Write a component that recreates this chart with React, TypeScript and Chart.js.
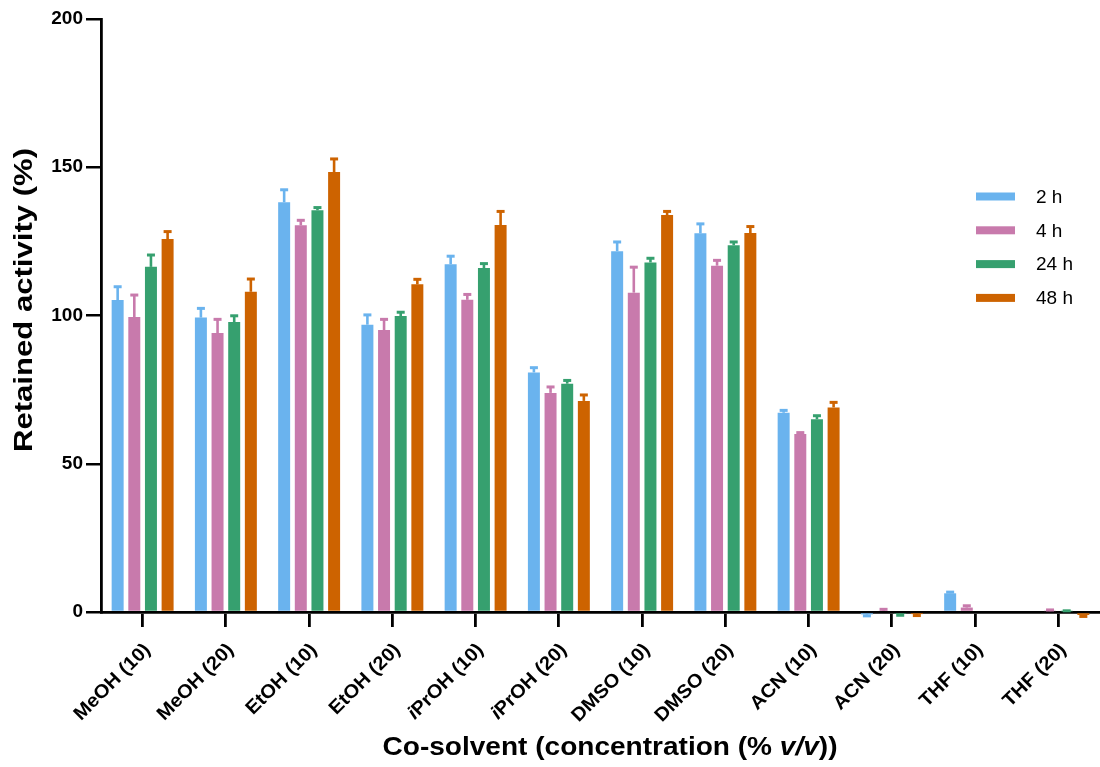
import React, { useEffect, useRef } from 'react';
import { Chart, registerables } from 'chart.js';

Chart.register(...registerables);

// ---------------- data ----------------
const categories = [
  'MeOH (10)', 'MeOH (20)', 'EtOH (10)', 'EtOH (20)', 'iPrOH (10)', 'iPrOH (20)',
  'DMSO (10)', 'DMSO (20)', 'ACN (10)', 'ACN (20)', 'THF (10)', 'THF (20)',
];
const seriesLabels = ['2 h', '4 h', '24 h', '48 h'];

const h2 = [105.2, 99.3, 138.2, 96.9, 117.3, 80.8, 121.7, 127.7, 67.2, -0.8, 6.3, null];
const h2err = [4.5, 3.1, 4.2, 3.3, 2.7, 1.6, 3.1, 3.2, 0.8, 0.5, 0.4, null];
const h4 = [99.5, 94.1, 130.4, 95.1, 105.3, 73.9, 107.7, 116.8, 60.0, 0.4, 1.5, 0.3];
const h4err = [7.4, 4.6, 1.7, 3.6, 1.8, 2.0, 8.6, 1.8, 0.5, 0.5, 0.6, 0.4];
const h24 = [116.4, 97.8, 135.5, 99.8, 116.0, 77.0, 117.9, 123.7, 65.0, -0.6, null, 0.2];
const h24err = [4.0, 2.1, 0.9, 1.3, 1.5, 1.1, 1.4, 1.1, 1.2, 0.5, null, 0.2];
const h48 = [125.8, 108.0, 148.4, 110.5, 130.5, 71.2, 133.9, 127.8, 69.0, -0.7, null, -1.0];
const h48err = [2.5, 4.3, 4.4, 1.7, 4.6, 2.0, 1.2, 2.2, 1.7, 0.5, null, 0.5];

const yMin = 0;
const yMax = 200;
const yStep = 50;

const xTitleParts = [
  { text: 'Co-solvent (concentration (% ', italic: false },
  { text: 'v/v', italic: true },
  { text: '))', italic: false },
];
const yTitle = 'Retained activity (%)';

// ---------------- style ----------------
const colors = ['#6AB3EE', '#C87AAC', '#36A06F', '#CD6300'];
const FONT = 'Arial, "Liberation Sans", Helvetica, sans-serif';

export default function App() {
  const ref = useRef<HTMLCanvasElement>(null);

  useEffect(() => {
    const values = [h2, h4, h24, h48];
    const errs = [h2err, h4err, h24err, h48err];

    const errorBars = {
      id: 'errorBars',
      afterDatasetsDraw(chart: any) {
        const ctx = chart.ctx;
        const y = chart.scales.y;
        chart.data.datasets.forEach((ds: any, di: number) => {
          const meta = chart.getDatasetMeta(di);
          meta.data.forEach((el: any, j: number) => {
            const v = ds.data[j];
            const e = errs[di][j];
            if (v == null || e == null) return;
            const end = v >= 0 ? v + e : v - e;
            const yb = y.getPixelForValue(v);
            const ye = y.getPixelForValue(end);
            ctx.save();
            ctx.strokeStyle = colors[di];
            ctx.lineWidth = 2.6;
            ctx.beginPath();
            ctx.moveTo(el.x, yb);
            ctx.lineTo(el.x, ye);
            ctx.stroke();
            ctx.lineWidth = 3;
            ctx.beginPath();
            ctx.moveTo(el.x - 4, ye);
            ctx.lineTo(el.x + 4, ye);
            ctx.stroke();
            ctx.restore();
          });
        });
      },
    };

    const measureParts = (ctx: any, parts: { text: string; italic: boolean }[], size: number, bold: boolean) => {
      const fontFor = (it: boolean) => `${it ? 'italic ' : ''}${bold ? 'bold ' : ''}${size}px ${FONT}`;
      let total = 0;
      const widths = parts.map((p) => {
        ctx.font = fontFor(p.italic);
        const w = ctx.measureText(p.text).width;
        total += w;
        return w;
      });
      return { total, widths, fontFor };
    };

    const customText = {
      id: 'customText',
      afterDraw(chart: any) {
        const ctx = chart.ctx;
        const xs = chart.scales.x;
        // x tick labels (rotated 45°)
        const labelStretch = 1.06;
        categories.forEach((lab, i) => {
          const parts = lab.startsWith('i')
            ? [{ text: 'i', italic: true }, { text: lab.slice(1), italic: false }]
            : [{ text: lab, italic: false }];
          const x = xs.getPixelForTick(i);
          ctx.save();
          ctx.translate(x + 5, 647);
          ctx.rotate(-Math.PI / 4);
          ctx.scale(labelStretch, 1);
          const m = measureParts(ctx, parts, 19, true);
          let cx = -m.total;
          ctx.fillStyle = '#000';
          ctx.textBaseline = 'middle';
          ctx.textAlign = 'left';
          parts.forEach((p, k) => {
            ctx.font = m.fontFor(p.italic);
            ctx.fillText(p.text, cx, 0);
            cx += m.widths[k];
          });
          ctx.restore();
        });

        // x title
        {
          const m = measureParts(ctx, xTitleParts, 25, true);
          const target = 455;
          const k = target / m.total;
          ctx.save();
          ctx.translate(610, 755);
          ctx.scale(k, 1);
          ctx.fillStyle = '#000';
          ctx.textBaseline = 'alphabetic';
          ctx.textAlign = 'left';
          let cx = -m.total / 2;
          xTitleParts.forEach((p, i) => {
            ctx.font = m.fontFor(p.italic);
            ctx.fillText(p.text, cx, 0);
            cx += m.widths[i];
          });
          ctx.restore();
        }

        // y title
        {
          ctx.save();
          ctx.font = `bold 25px ${FONT}`;
          const w = ctx.measureText(yTitle).width;
          const k = 304 / w;
          ctx.translate(32, 300);
          ctx.rotate(-Math.PI / 2);
          ctx.scale(k, 1);
          ctx.fillStyle = '#000';
          ctx.textAlign = 'center';
          ctx.textBaseline = 'alphabetic';
          ctx.fillText(yTitle, 0, 0);
          ctx.restore();
        }

        // legend
        chart.data.datasets.forEach((ds: any, i: number) => {
          const cy = 196.5 + 33.8 * i;
          ctx.save();
          ctx.fillStyle = ds.backgroundColor;
          ctx.fillRect(976, cy - 4, 39, 8);
          ctx.fillStyle = '#000';
          ctx.font = `19px ${FONT}`;
          ctx.textBaseline = 'middle';
          ctx.textAlign = 'left';
          ctx.fillText(ds.label, 1036, cy + 1);
          ctx.restore();
        });
      },
    };

    const chart = new Chart(ref.current as HTMLCanvasElement, {
      type: 'bar',
      data: {
        labels: categories,
        datasets: values.map((v, i) => ({
          label: seriesLabels[i],
          data: v,
          backgroundColor: colors[i],
          borderWidth: 0,
          categoryPercentage: 0.8,
          barPercentage: 0.72,
          clip: false as any,
        })),
      },
      options: {
        responsive: false,
        animation: false,
        layout: { padding: { top: 19, left: 0, right: 0, bottom: 0 } },
        plugins: {
          legend: { display: false },
          tooltip: { enabled: false },
          title: { display: false },
        },
        scales: {
          x: {
            z: 1,
            grid: {
              offset: false,
              drawOnChartArea: false,
              drawTicks: true,
              tickLength: 15,
              color: '#000',
              lineWidth: 2.8,
            },
            border: { display: true, color: '#000', width: 2.8 },
            ticks: { display: false, autoSkip: false },
            afterFit: (s: any) => {
              s.height = 155;
            },
          },
          y: {
            z: 1,
            min: yMin,
            max: yMax,
            grid: {
              drawOnChartArea: false,
              drawTicks: true,
              tickLength: 15,
              color: '#000',
              lineWidth: 2.5,
            },
            border: { display: true, color: '#000', width: 2.8 },
            ticks: {
              stepSize: yStep,
              color: '#000',
              padding: 3,
              font: { family: FONT, size: 19, weight: 'bold' },
            },
            afterFit: (s: any) => {
              s.width = 101;
            },
          },
        },
      },
      plugins: [errorBars, customText],
    } as any);

    return () => chart.destroy();
  }, []);

  return (
    <div style={{ position: 'fixed', left: 0, top: 0, width: 1100, height: 767, background: '#fff' }}>
      <canvas ref={ref} width={1100} height={767} style={{ display: 'block' }} />
    </div>
  );
}
